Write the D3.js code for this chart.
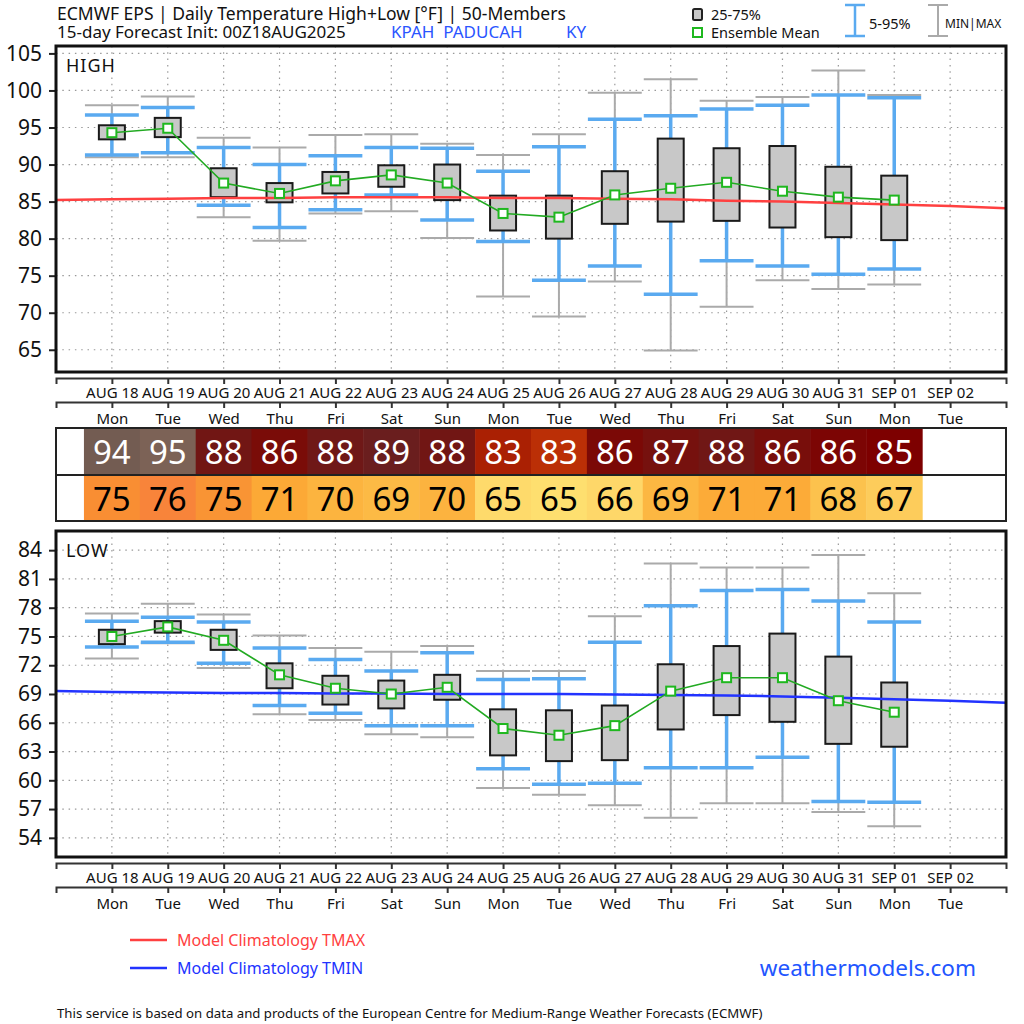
<!DOCTYPE html>
<html>
<head>
<meta charset="utf-8">
<script src="https://cdn.jsdelivr.net/npm/d3@7"></script>
<style>
  body { margin: 0; background: #fff; }
  svg { display: block; font-family: "Noto Sans", sans-serif; }
</style>
</head>
<body>
<div id="chart"></div>
<script>
// dates on the x axis (SEP 02 has no forecast)
const days = ["AUG 18", "AUG 19", "AUG 20", "AUG 21", "AUG 22", "AUG 23", "AUG 24", "AUG 25",
              "AUG 26", "AUG 27", "AUG 28", "AUG 29", "AUG 30", "AUG 31", "SEP 01", "SEP 02"];
const weekdays = ["Mon", "Tue", "Wed", "Thu", "Fri", "Sat", "Sun", "Mon",
                  "Tue", "Wed", "Thu", "Fri", "Sat", "Sun", "Mon", "Tue"];

// daily highs (F)
const highMax  = [98.0, 99.2, 93.6, 92.3, 94.0, 94.1, 92.8, 91.3, 94.1, 99.7, 101.5, 98.6, 99.1, 102.7, 99.4];
const highP95  = [96.7, 97.7, 92.3, 90.0, 91.2, 92.3, 92.2, 89.1, 92.4, 96.1, 96.6, 97.5, 98.0, 99.4, 99.0];
const highQ3   = [95.3, 96.3, 89.5, 87.5, 89.0, 89.9, 90.0, 85.8, 85.8, 89.1, 93.5, 92.2, 92.5, 89.7, 88.5];
const highMean = [94.3, 94.9, 87.5, 86.1, 87.8, 88.6, 87.5, 83.4, 82.9, 85.9, 86.8, 87.6, 86.4, 85.6, 85.2];
const highQ1   = [93.4, 93.7, 85.6, 84.9, 86.1, 87.0, 85.2, 81.1, 80.0, 82.0, 82.3, 82.4, 81.5, 80.2, 79.8];
const highP5   = [91.3, 91.6, 84.5, 81.5, 83.9, 85.9, 82.5, 79.6, 74.4, 76.3, 72.5, 77.0, 76.3, 75.2, 75.9];
const highMin  = [91.0, 91.0, 82.9, 79.7, 83.4, 83.7, 80.1, 72.2, 69.5, 74.2, 64.9, 70.8, 74.4, 73.2, 73.8];

// daily lows (F)
const lowMax  = [77.4, 78.4, 77.3, 75.1, 73.8, 73.4, 74.0, 71.4, 71.4, 77.1, 82.6, 82.2, 82.2, 83.5, 79.5];
const lowP95  = [76.6, 77.0, 76.5, 73.8, 72.6, 71.4, 73.3, 70.5, 70.6, 74.4, 78.2, 79.8, 79.9, 78.7, 76.5];
const lowQ3   = [75.7, 76.6, 75.7, 72.2, 70.9, 70.4, 71.0, 67.4, 67.3, 67.8, 72.1, 74.0, 75.3, 72.9, 70.2];
const lowMean = [75.0, 76.0, 74.6, 71.0, 69.6, 69.0, 69.7, 65.4, 64.7, 65.7, 69.3, 70.7, 70.7, 68.3, 67.1];
const lowQ1   = [74.2, 75.4, 73.6, 69.6, 67.9, 67.5, 68.4, 62.6, 62.0, 62.1, 65.3, 66.8, 66.1, 63.8, 63.5];
const lowP5   = [73.9, 74.4, 72.2, 67.8, 67.0, 65.7, 65.7, 61.2, 59.6, 59.7, 61.3, 61.3, 62.4, 57.8, 57.7];
const lowMin  = [72.7, 74.3, 71.7, 66.9, 66.3, 64.8, 64.5, 59.2, 58.5, 57.4, 56.1, 57.6, 57.6, 56.7, 55.2];

// table rows (rounded ensemble mean)
const tableHigh = [94, 95, 88, 86, 88, 89, 88, 83, 83, 86, 87, 88, 86, 86, 85];
const tableLow  = [75, 76, 75, 71, 70, 69, 70, 65, 65, 66, 69, 71, 71, 68, 67];

// model climatology, one value per day from the left edge (-1) to the right edge (16)
const climMax = [85.2, 85.3, 85.4, 85.5, 85.5, 85.6, 85.6, 85.6, 85.5, 85.5, 85.4, 85.3, 85.1, 85.0, 84.8, 84.6, 84.4, 84.1];
const climMin = [69.3, 69.2, 69.15, 69.1, 69.1, 69.05, 69.05, 69.0, 69.0, 69.0, 68.95, 68.9, 68.85, 68.75, 68.6, 68.45, 68.3, 68.1];

const highTicks = [65, 70, 75, 80, 85, 90, 95, 100, 105];
const lowTicks = [54, 57, 60, 63, 66, 69, 72, 75, 78, 81, 84];

const W = 1024, H = 1024;
const svg = d3.select("#chart").append("svg").attr("width", W).attr("height", H);

const x = d3.scaleLinear().domain([-1, 16]).range([56, 1006]);
const step = x(1) - x(0);
const climIdx = d3.range(-1, 17);

const BLUE_W = "#5aaaf0", GREY_W = "#aaaaaa", GREEN = "#22aa22";

function drawPanel(p) {
    const y = d3.scaleLinear().domain(p.domain).range([p.bottom, p.top]);
    const g = svg.append("g");

    // dotted grid
    g.append("g").selectAll("line").data(p.ticks).join("line")
        .attr("x1", x(-1)).attr("x2", x(16))
        .attr("y1", d => y(d)).attr("y2", d => y(d))
        .attr("stroke", "#999").attr("stroke-width", 1.2).attr("stroke-dasharray", "1.5,4.8");
    g.append("g").selectAll("line").data(d3.range(0, 16)).join("line")
        .attr("x1", d => x(d)).attr("x2", d => x(d))
        .attr("y1", p.top).attr("y2", p.bottom)
        .attr("stroke", "#999").attr("stroke-width", 1.2).attr("stroke-dasharray", "1.5,4.8");

    // y axis
    const ya = g.append("g").attr("transform", `translate(${x(-1)},0)`)
        .call(d3.axisLeft(y).tickValues(p.ticks).tickSize(7).tickSizeOuter(0).tickPadding(7));
    ya.select(".domain").remove();
    ya.selectAll("line").attr("stroke", "#222").attr("stroke-width", 2);
    ya.selectAll("text").attr("font-size", 21).attr("font-family", "Noto Sans").attr("fill", "#111");

    const idx = d3.range(p.mean.length);

    // min-max whiskers
    g.append("g").selectAll("line").data(idx).join("line")
        .attr("x1", i => x(i)).attr("x2", i => x(i))
        .attr("y1", i => y(p.min[i])).attr("y2", i => y(p.max[i]))
        .attr("stroke", GREY_W).attr("stroke-width", 2);
    [p.min, p.max].forEach(arr => {
        g.append("g").selectAll("line").data(idx).join("line")
            .attr("x1", i => x(i) - step / 2 + 1).attr("x2", i => x(i) + step / 2 - 1)
            .attr("y1", i => y(arr[i])).attr("y2", i => y(arr[i]))
            .attr("stroke", GREY_W).attr("stroke-width", 2);
    });

    // 5-95 whiskers
    g.append("g").selectAll("line").data(idx).join("line")
        .attr("x1", i => x(i)).attr("x2", i => x(i))
        .attr("y1", i => y(p.p5[i])).attr("y2", i => y(p.p95[i]))
        .attr("stroke", BLUE_W).attr("stroke-width", 3.5);
    [p.p5, p.p95].forEach(arr => {
        g.append("g").selectAll("line").data(idx).join("line")
            .attr("x1", i => x(i) - step / 2 + 1).attr("x2", i => x(i) + step / 2 - 1)
            .attr("y1", i => y(arr[i])).attr("y2", i => y(arr[i]))
            .attr("stroke", BLUE_W).attr("stroke-width", 3.5);
    });

    // 25-75 boxes
    g.append("g").selectAll("rect").data(idx).join("rect")
        .attr("x", i => x(i) - 13).attr("width", 26)
        .attr("y", i => y(p.q3[i])).attr("height", i => y(p.q1[i]) - y(p.q3[i]))
        .attr("fill", "#c8c8c8").attr("stroke", "#1a1a1a").attr("stroke-width", 2);

    // climatology
    g.append("path").datum(climIdx)
        .attr("d", d3.line().x(d => x(d)).y((d, k) => y(p.clim[k])))
        .attr("fill", "none").attr("stroke", p.climColor).attr("stroke-width", 2.5);

    // ensemble mean
    g.append("path").datum(idx)
        .attr("d", d3.line().x(i => x(i)).y(i => y(p.mean[i])))
        .attr("fill", "none").attr("stroke", GREEN).attr("stroke-width", 1.6);
    g.append("g").selectAll("rect").data(idx).join("rect")
        .attr("x", i => x(i) - 4.5).attr("y", i => y(p.mean[i]) - 4.5)
        .attr("width", 9).attr("height", 9)
        .attr("fill", "#fff").attr("stroke", "#1fb81f").attr("stroke-width", 2);

    // frame
    g.append("rect").attr("x", x(-1)).attr("y", p.top)
        .attr("width", x(16) - x(-1)).attr("height", p.bottom - p.top)
        .attr("fill", "none").attr("stroke", "#111").attr("stroke-width", 3);

    g.append("text").attr("x", 66).attr("y", p.top + 26)
        .attr("font-size", 18).attr("letter-spacing", 1).attr("fill", "#111")
        .text(p.label);

    drawDateAxis(p.bottom + 6);
}

function drawDateAxis(yPos) {
    const a1 = svg.append("g").attr("transform", `translate(0,${yPos})`)
        .call(d3.axisBottom(x).tickValues(d3.range(0, 16)).tickFormat(i => days[i])
            .tickSizeInner(6).tickSizeOuter(6).tickPadding(3));
    const a2 = svg.append("g").attr("transform", `translate(0,${yPos + 24})`)
        .call(d3.axisBottom(x).tickValues(d3.range(0, 16)).tickFormat(i => weekdays[i])
            .tickSizeInner(6).tickSizeOuter(6).tickPadding(5));
    [a1, a2].forEach(a => {
        a.select(".domain").attr("stroke", "#333").attr("stroke-width", 2);
        a.selectAll("line").attr("stroke", "#333").attr("stroke-width", 2);
        a.selectAll("text").attr("font-size", 15).attr("font-family", "Noto Sans").attr("fill", "#111");
    });
}

drawPanel({
    label: "HIGH", domain: [62, 106], top: 46, bottom: 372, ticks: highTicks,
    min: highMin, p5: highP5, q1: highQ1, mean: highMean, q3: highQ3, p95: highP95, max: highMax,
    clim: climMax, climColor: "#ff4040"
});
drawPanel({
    label: "LOW", domain: [52, 86], top: 531, bottom: 857, ticks: lowTicks,
    min: lowMin, p5: lowP5, q1: lowQ1, mean: lowMean, q3: lowQ3, p95: lowP95, max: lowMax,
    clim: climMin, climColor: "#2233ff"
});

// table of rounded means
const highColor = d3.scaleLinear()
    .domain([82.5, 84, 85.2, 86.1, 88.6, 94.3, 95])
    .range(["#c83a08", "#960f00", "#7d0000", "#7a0c08", "#6a1e1e", "#735c52", "#7d6357"]);
const lowColor = d3.scaleLinear()
    .domain([64.6, 66, 68.3, 69.5, 71, 74.6, 75, 76])
    .range(["#fee070", "#fed567", "#fcc24d", "#fcb540", "#fca936", "#f99434", "#f98e33", "#f8843a"]);

const tTop = 428, tMid = 475, tBot = 521;
const tg = svg.append("g");
[
    { vals: tableHigh, mean: highMean, color: highColor, y0: tTop, y1: tMid, txt: "#fff" },
    { vals: tableLow, mean: lowMean, color: lowColor, y0: tMid, y1: tBot, txt: "#000" }
].forEach(r => {
    const idx = d3.range(r.vals.length);
    tg.append("g").selectAll("rect").data(idx).join("rect")
        .attr("x", i => x(i) - step / 2).attr("width", step + 0.5)
        .attr("y", r.y0).attr("height", r.y1 - r.y0)
        .attr("fill", i => r.color(r.mean[i]));
    tg.append("g").selectAll("text").data(idx).join("text")
        .attr("x", i => x(i)).attr("y", (r.y0 + r.y1) / 2)
        .attr("text-anchor", "middle").attr("dominant-baseline", "central")
        .attr("font-size", 33).attr("fill", r.txt)
        .text(i => r.vals[i]);
});
tg.append("rect").attr("x", x(-1)).attr("y", tTop).attr("width", x(16) - x(-1)).attr("height", tBot - tTop)
    .attr("fill", "none").attr("stroke", "#222").attr("stroke-width", 2);
tg.append("line").attr("x1", x(-1)).attr("x2", x(16)).attr("y1", tMid).attr("y2", tMid)
    .attr("stroke", "#222").attr("stroke-width", 2);

// header
const hd = svg.append("g").attr("font-size", 17.5).attr("fill", "#111");
hd.append("text").attr("x", 57).attr("y", 19.5).text("ECMWF EPS | Daily Temperature High+Low [°F] | 50-Members");
hd.append("text").attr("x", 57).attr("y", 38).attr("font-size", 17).text("15-day Forecast Init: 00Z18AUG2025");
hd.append("text").attr("x", 391).attr("y", 38).attr("font-size", 17).attr("fill", "#2a55ff").attr("xml:space", "preserve").text("KPAH  PADUCAH");
hd.append("text").attr("x", 566).attr("y", 38).attr("font-size", 17).attr("fill", "#2a55ff").text("KY");

// header legend
const lg = svg.append("g").attr("font-size", 14.5).attr("fill", "#111");
lg.append("rect").attr("x", 693).attr("y", 9).attr("width", 9).attr("height", 11).attr("rx", 1.5)
    .attr("fill", "#c8c8c8").attr("stroke", "#222").attr("stroke-width", 2);
lg.append("text").attr("x", 711).attr("y", 20).text("25-75%");
lg.append("rect").attr("x", 693).attr("y", 28).attr("width", 9).attr("height", 9)
    .attr("fill", "#fff").attr("stroke", "#1fb81f").attr("stroke-width", 2);
lg.append("text").attr("x", 711).attr("y", 38).text("Ensemble Mean");
[{ cx: 855, c: BLUE_W, w: 2.5 }, { cx: 938, c: GREY_W, w: 2 }].forEach(b => {
    lg.append("path").attr("d", `M${b.cx - 10},5H${b.cx + 10}M${b.cx},5V36M${b.cx - 10},36H${b.cx + 10}`)
        .attr("fill", "none").attr("stroke", b.c).attr("stroke-width", b.w);
});
lg.append("text").attr("x", 869).attr("y", 29).text("5-95%");
lg.append("text").attr("x", 945).attr("y", 27.5).attr("font-size", 12).text("MIN|MAX");

// bottom legend
const bl = svg.append("g").attr("font-size", 16);
bl.append("line").attr("x1", 130).attr("x2", 167).attr("y1", 940).attr("y2", 940).attr("stroke", "#ff4040").attr("stroke-width", 2.5);
bl.append("text").attr("x", 177).attr("y", 945.5).attr("fill", "#ff4040").text("Model Climatology TMAX");
bl.append("line").attr("x1", 130).attr("x2", 167).attr("y1", 968).attr("y2", 968).attr("stroke", "#2233ff").attr("stroke-width", 2.5);
bl.append("text").attr("x", 177).attr("y", 973.5).attr("fill", "#2233ff").text("Model Climatology TMIN");
svg.append("text").attr("x", 976).attr("y", 976).attr("text-anchor", "end")
    .attr("font-size", 22.5).attr("fill", "#2255ff").text("weathermodels.com");
svg.append("text").attr("x", 57).attr("y", 1018).attr("font-size", 13.2).attr("fill", "#111")
    .text("This service is based on data and products of the European Centre for Medium-Range Weather Forecasts (ECMWF)");
</script>
</body>
</html>
